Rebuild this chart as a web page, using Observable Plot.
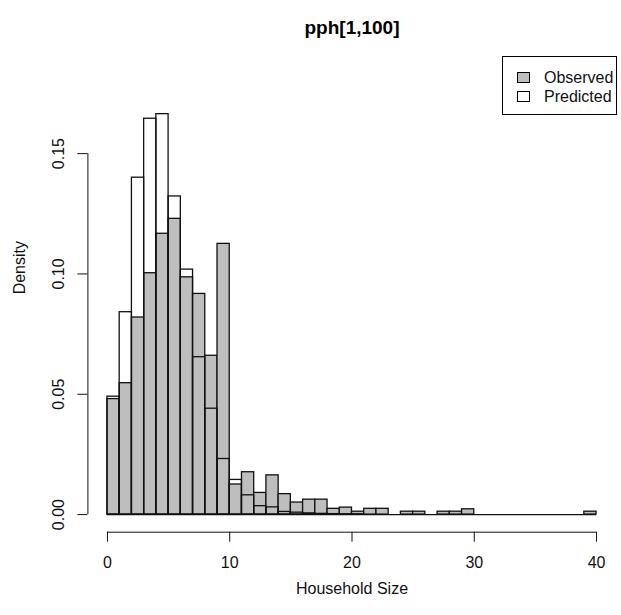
<!DOCTYPE html>
<html>
<head>
<meta charset="utf-8">
<script src="https://cdn.jsdelivr.net/npm/d3@7"></script>
<script src="https://cdn.jsdelivr.net/npm/@observablehq/plot@0.6"></script>
<style>
  body { margin: 0; background: #fff; }
  #wrap { position: relative; width: 621px; height: 615px; font-family: "Liberation Sans", Arial, sans-serif; }
  #legend { position: absolute; left: 502px; top: 56px; width: 115px; height: 59px; border: 1px solid #000; background: #fff; box-sizing: border-box; }
  .item { position: absolute; left: 14px; height: 19px; font-size: 16px; color: #111; white-space: nowrap; }
  .sw { position: absolute; left: 0; top: 4px; width: 11px; height: 9px; border: 1px solid #000; }
  .lab { position: absolute; left: 27px; top: 0; line-height: 19px; }
</style>
</head>
<body>
<div id="wrap">
  <div id="chart"></div>
  <div id="legend">
    <div class="item" style="top:11px"><div class="sw" style="background:#bebebe"></div><div class="lab">Observed</div></div>
    <div class="item" style="top:30px"><div class="sw" style="background:#fff"></div><div class="lab">Predicted</div></div>
  </div>
</div>
<script>
// Bin edges: household sizes 0..40 in bins of width 1
const binStarts = d3.range(0, 40);
const observed = [
  0.0480, 0.0546, 0.0819, 0.1003, 0.1167, 0.1229, 0.0986, 0.0917, 0.0660, 0.1125,
  0.0125, 0.0176, 0.0090, 0.0163, 0.0085, 0.0050, 0.0062, 0.0062, 0.0024, 0.0029,
  0.0012, 0.0024, 0.0024, 0.0000, 0.0012, 0.0012, 0.0000, 0.0012, 0.0012, 0.0022,
  0.0000, 0.0000, 0.0000, 0.0000, 0.0000, 0.0000, 0.0000, 0.0000, 0.0000, 0.0012
];
const predicted = [
  0.0490, 0.0841, 0.1400, 0.1645, 0.1664, 0.1322, 0.1018, 0.0654, 0.0440, 0.0231,
  0.0144, 0.0080, 0.0035, 0.0030, 0.0011, 0.0008, 0.0005, 0.0003, 0.0002, 0.0001,
  0.0001, 0, 0, 0, 0, 0, 0, 0, 0, 0,
  0, 0, 0, 0, 0, 0, 0, 0, 0, 0
];
const xTicks = [0, 10, 20, 30, 40];
const yTicks = [0, 0.05, 0.10, 0.15];
const title = "pph[1,100]";
const xLabel = "Household Size";
const yLabel = "Density";

const bins = binStarts.map((s, i) => ({lo: s, hi: s + 1, obs: observed[i], pred: predicted[i]}));
const xDomain = [-1.6, 41.6];
const yMax = d3.max(predicted.concat(observed)) * 1.1;
const yDomain = [-0.04 * yMax, yMax * 1.04];

const font = "Liberation Sans, Arial, sans-serif";
const chart = Plot.plot({
  width: 621,
  height: 615,
  marginLeft: 87.4,
  marginRight: 5.4,
  marginTop: 56,
  marginBottom: 83.3,
  style: {fontFamily: font, fontSize: "16px", color: "#111", background: "#fff"},
  x: {domain: xDomain, axis: null},
  y: {domain: yDomain, axis: null},
  marks: [
    Plot.rectY(bins, {x1: "lo", x2: "hi", y: "obs", fill: "#bebebe", stroke: "#111", strokeWidth: 1.3}),
    Plot.ruleY([0], {x1: 0, x2: 40, stroke: "#111", strokeWidth: 1.3}),
    Plot.rectY(bins.filter(d => d.pred > 0), {x1: "lo", x2: "hi", y: "pred", fill: "none", stroke: "#111", strokeWidth: 1.3}),
    Plot.axisX(xTicks, {tickSize: 10, tickPadding: 14, fontSize: 16, label: null, stroke: "#111"}),
    Plot.ruleY([yDomain[0]], {x1: xTicks[0], x2: xTicks[xTicks.length - 1], stroke: "#111"}),
    Plot.axisY(yTicks, {tickSize: 10, tickPadding: 14, tickRotate: -90, tickFormat: d3.format(".2f"), fontSize: 16, label: null, stroke: "#111"}),
    Plot.ruleX([xDomain[0]], {y1: yTicks[0], y2: yTicks[yTicks.length - 1], stroke: "#111"}),
    Plot.text([title], {frameAnchor: "top", dy: -36, fontSize: 19, fontWeight: "bold", fill: "#000"}),
    Plot.text([xLabel], {frameAnchor: "bottom", dy: 62, fontSize: 16, fill: "#111"}),
    Plot.text([yLabel], {frameAnchor: "left", dx: -68, rotate: -90, fontSize: 16, fill: "#111"})
  ]
});
document.getElementById("chart").appendChild(chart);
</script>
</body>
</html>
